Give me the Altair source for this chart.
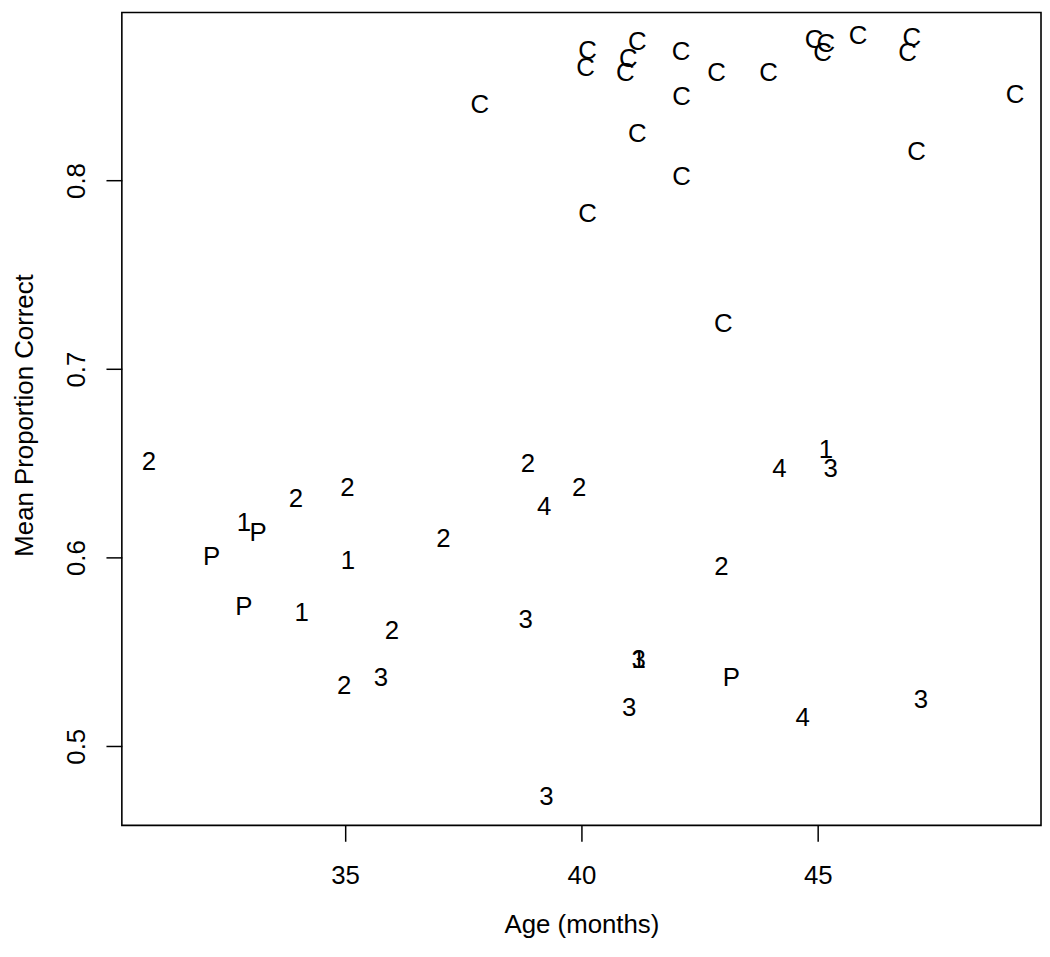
import altair as alt
import pandas as pd

# ---- data (age in months, mean proportion correct) ----
c_age = [37.85, 40.13, 40.09, 41.18, 40.99, 40.93, 42.11, 42.86, 42.12, 41.18, 42.12,
         40.13, 43.96, 44.92, 45.17, 45.10, 45.85, 46.99, 46.90, 49.17, 47.09, 43.00]
c_prop = [0.8407, 0.8693, 0.8605, 0.8742, 0.8649, 0.8574, 0.8689, 0.8574, 0.8447, 0.8254, 0.8026,
          0.7829, 0.8574, 0.8754, 0.8732, 0.8684, 0.8772, 0.8763, 0.8684, 0.8461, 0.8158, 0.7245]

g1_age = [32.86, 35.06, 34.08, 41.21, 45.17]
g1_prop = [0.6193, 0.5991, 0.5711, 0.5465, 0.6579]

g2_age = [30.85, 38.87, 35.05, 39.95, 33.96, 37.08, 35.99, 34.98, 42.96]
g2_prop = [0.6514, 0.6505, 0.6374, 0.6374, 0.6316, 0.6105, 0.5617, 0.5324, 0.5956]

g3_age = [38.82, 35.76, 41.21, 41.01, 47.18, 39.26, 45.27]
g3_prop = [0.5675, 0.5368, 0.5465, 0.5207, 0.5251, 0.4737, 0.6479]

g4_age = [39.21, 44.19, 44.68]
g4_prop = [0.6275, 0.6479, 0.5158]

p_age = [33.16, 32.18, 32.86, 43.17]
p_prop = [0.6140, 0.6008, 0.5745, 0.5368]

x_ticks = [35, 40, 45]
y_ticks = [0.5, 0.6, 0.7, 0.8]

groups = [("C", c_age, c_prop), ("1", g1_age, g1_prop), ("2", g2_age, g2_prop),
          ("3", g3_age, g3_prop), ("4", g4_age, g4_prop), ("P", p_age, p_prop)]
rows = []
for lab, ages, props in groups:
    for a, p in zip(ages, props):
        rows.append({"age": a, "prop": p, "label": lab})
df = pd.DataFrame(rows)

FONT = "Liberation Sans"

chart = alt.Chart(df).mark_text(
    font=FONT, fontSize=26, color="black", baseline="alphabetic", align="center", dy=9.3
).encode(
    x=alt.X("age:Q",
            scale=alt.Scale(domain=[30.279, 49.721], nice=False, zero=False),
            axis=alt.Axis(values=x_ticks, format="d", title="Age (months)",
                          labelFont=FONT, labelFontSize=26, labelColor="black",
                          labelBaseline="alphabetic", labelPadding=43,
                          tickSize=16, tickColor="black", tickWidth=1.5,
                          domain=False, grid=False,
                          titleFont=FONT, titleFontSize=26, titleFontWeight="normal",
                          titleColor="black", titleBaseline="alphabetic",
                          titleX=463, titleY=108)),
    y=alt.Y("prop:Q",
            scale=alt.Scale(domain=[0.45805, 0.88911], nice=False, zero=False),
            axis=alt.Axis(values=y_ticks, format=".1f", title="Mean Proportion Correct",
                          labelFont=FONT, labelFontSize=26, labelColor="black",
                          labelAngle=270, labelAlign="center", labelBaseline="alphabetic",
                          labelPadding=22,
                          tickSize=16, tickColor="black", tickWidth=1.5,
                          domain=False, grid=False,
                          titleFont=FONT, titleFontSize=26, titleFontWeight="normal",
                          titleColor="black", titleAngle=270, titleAlign="center",
                          titleBaseline="alphabetic", titleX=-90.5, titleY=405.5)),
    text="label:N",
).properties(
    width=926, height=819,
    autosize=alt.AutoSizeParams(type="none"),
    padding={"left": 114.7, "top": 1, "right": 1, "bottom": 114},
    background="white",
).configure_view(
    stroke="black", strokeWidth=1.6, fill="white"
)

chart.save("out.html", embed_options={"renderer": "svg", "actions": False})
